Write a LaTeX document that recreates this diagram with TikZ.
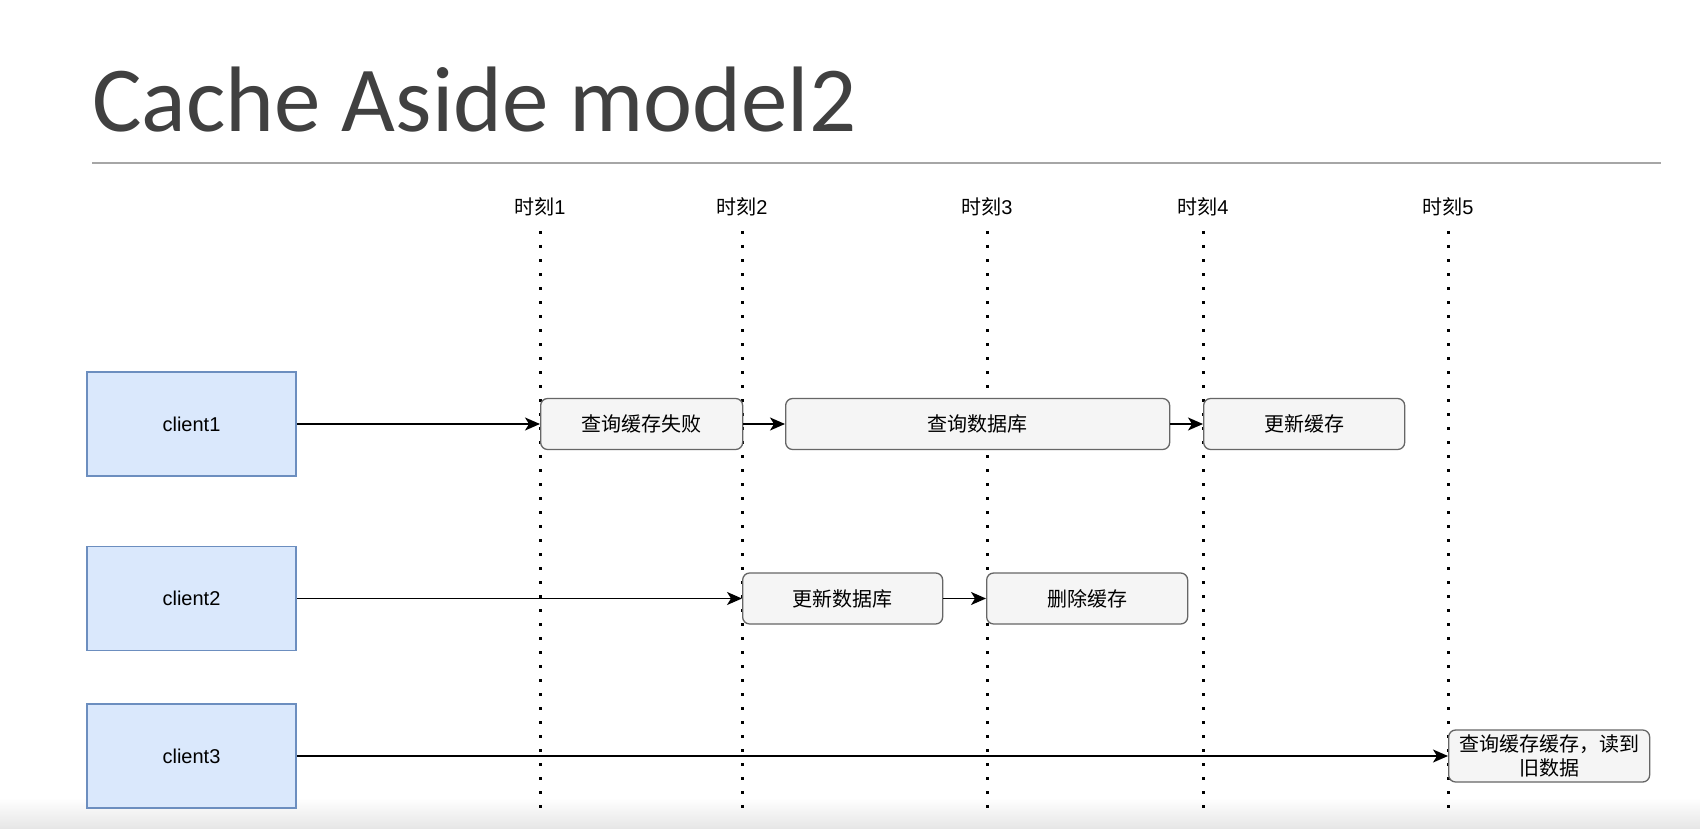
\documentclass[tikz,border=0pt]{standalone}
\usepackage{fontspec}
\setmainfont{Liberation Sans}
\newfontfamily\cjk{Noto Sans CJK SC}
\newfontfamily\titlefont{Carlito}
\usetikzlibrary{arrows.meta,positioning}
\definecolor{clientfill}{HTML}{DAE8FC}
\definecolor{clientline}{HTML}{6C8EBF}
\definecolor{stepfill}{HTML}{F5F5F5}
\definecolor{stepline}{HTML}{666666}
\definecolor{titlegray}{HTML}{404040}
\definecolor{rulegray}{HTML}{A6A6A6}
\tikzset{
	client/.style={draw=clientline, fill=clientfill, line width=1.5pt, minimum width=209pt, minimum height=104pt, inner sep=0pt, font=\fontsize{20}{24}\selectfont},
	stepbox/.style={draw=stepline, fill=stepfill, rounded corners=7pt, line width=1.3pt, minimum height=51pt, inner sep=0pt, anchor=west, font=\cjk\fontsize{20}{24}\selectfont},
	timeline/.style={line width=3pt, dash pattern=on 3pt off 11pt},
	flow/.style={line width=1.7pt, -{Stealth[length=15pt,width=13pt,inset=4pt]}}
}

\begin{document}
\begin{tikzpicture}[x=1pt, y=-1pt]
			%%%%% START %%%%%
			\path[use as bounding box, fill=white] (0,0) rectangle (1700,829);
			\shade[top color=white, bottom color=black!10] (0,798) rectangle (1700,829);
			
			\node[anchor=base west, inner sep=0pt, text=titlegray, font=\titlefont\fontsize{93}{93}\selectfont] (title) at (92,132) {Cache Aside model2};
			\draw[rulegray, line width=1.2pt] (92,163) -- (1661,163);
			
			% time marks
			\foreach \x [count=\i] in {540, 742, 987, 1203, 1448} {
				\node[inner sep=0pt, font=\fontsize{20}{24}\selectfont] (tl\i) at (\x,207) {{\cjk 时刻}\i};
				\coordinate (ts\i) at (\x,231);
				\coordinate (te\i) at (\x,808);
				\draw[timeline] (ts\i) -- (te\i);
			}
			
			\node[client] (c1) at (191.5,424) {client1};
			\node[client] (c2) at (191.5,598.5) {client2};
			\node[client] (c3) at (191.5,756) {client3};
			
			\node[stepbox, minimum width=202pt] (q1) at (540,424) {查询缓存失败};
			\node[stepbox, minimum width=384pt] (q2) at (785,424) {查询数据库};
			\node[stepbox, minimum width=201pt] (q3) at (1203,424) {更新缓存};
			
			\node[stepbox, minimum width=200pt] (u1) at (742,598.5) {更新数据库};
			\node[stepbox, minimum width=201pt] (u2) at (986,598.5) {删除缓存};
			
			\node[stepbox, minimum width=201pt, minimum height=52pt, align=center, font=\cjk\fontsize{20}{24}\selectfont] (r1) at (1448,756) {查询缓存缓存，读到\\旧数据};
			
			\draw[flow] (c1.east) -- (q1.west);
			\draw[flow] (q1.east) -- (q2.west);
			\draw[flow] (q2.east) -- (q3.west);
			\draw[flow] (c2.east) -- (u1.west);
			\draw[flow] (u1.east) -- (u2.west);
			\draw[flow] (c3.east) -- (r1.west);
			%%%%% END %%%%%
\end{tikzpicture}
\end{document}
